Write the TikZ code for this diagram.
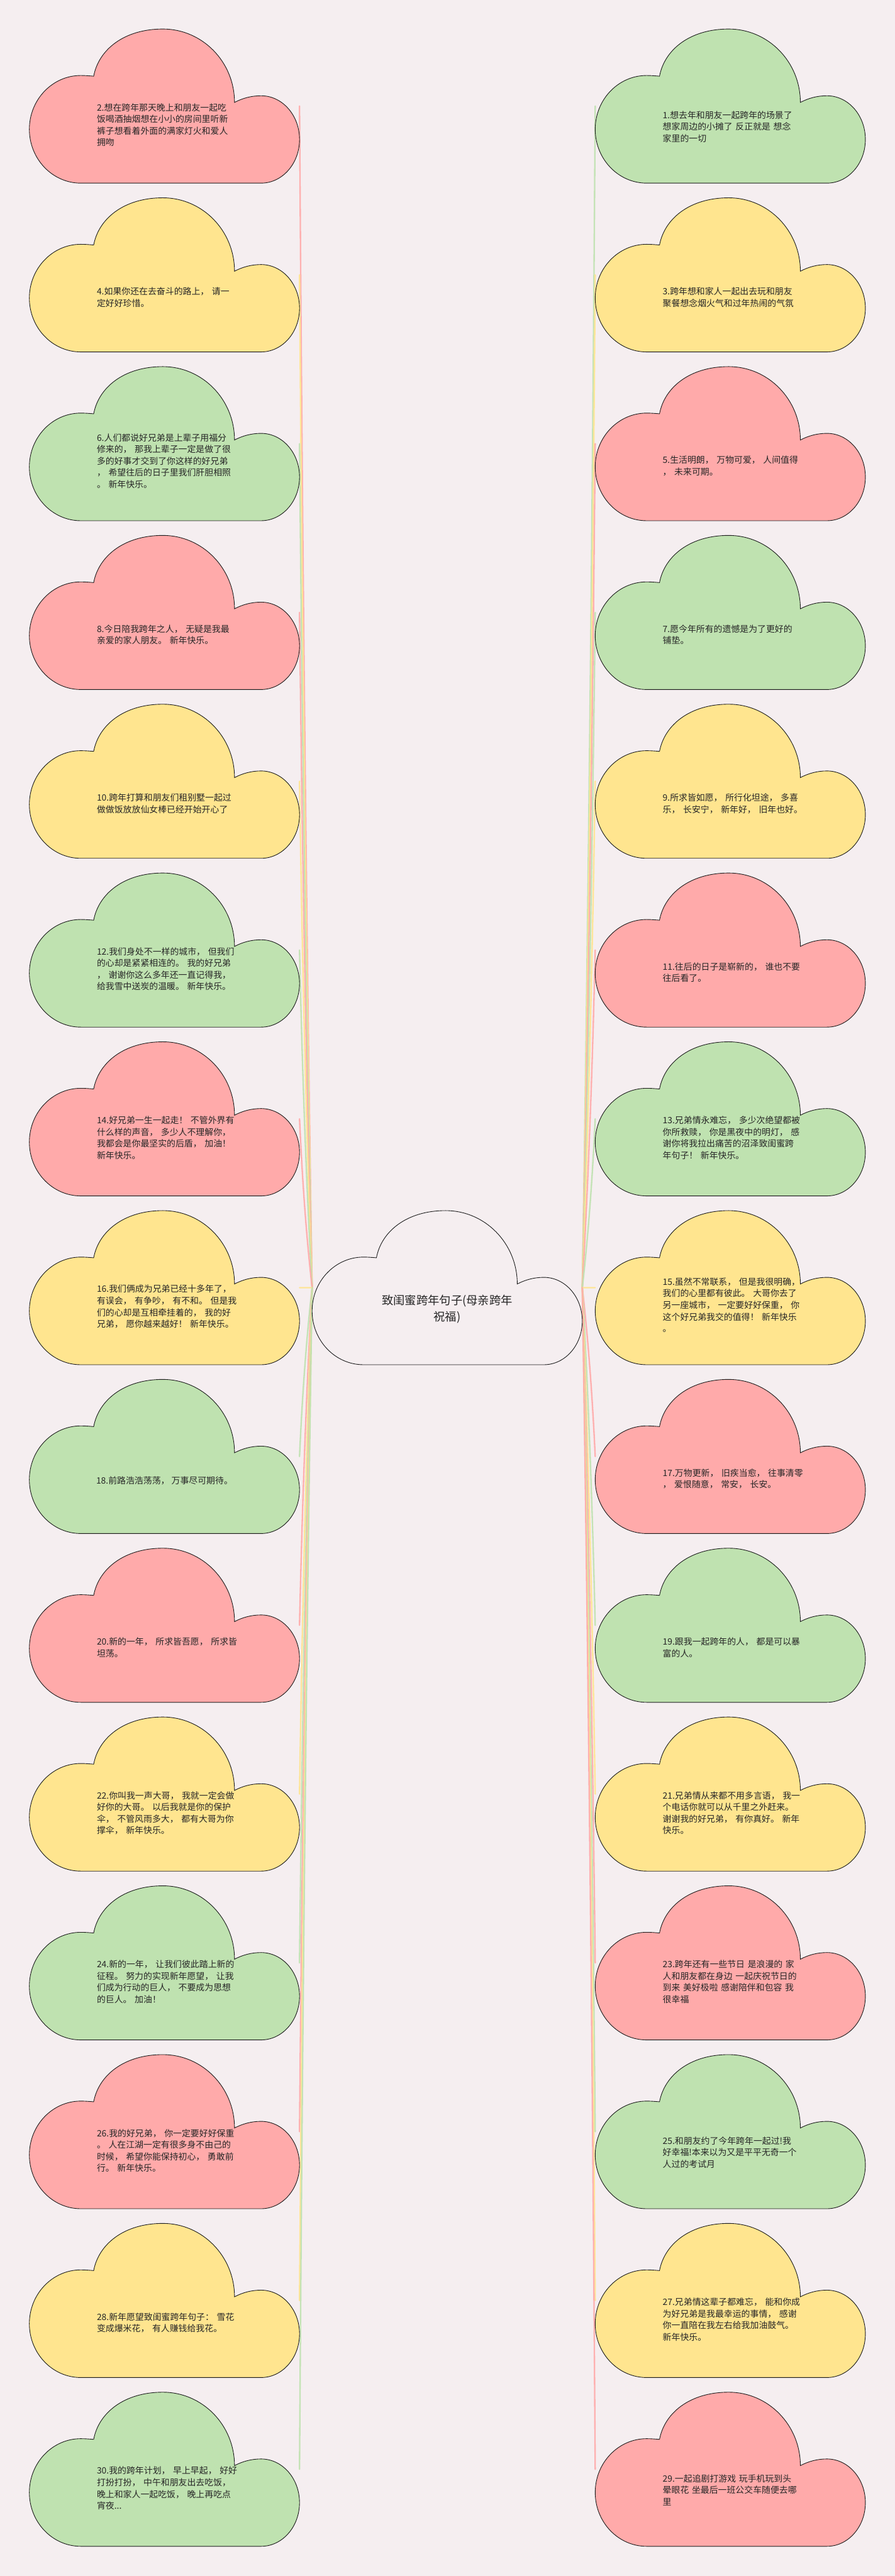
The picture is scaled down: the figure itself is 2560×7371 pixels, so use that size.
\documentclass[tikz,border=0pt]{standalone}
\usepackage{fontspec}
\setmainfont{Noto Sans CJK SC}
\usetikzlibrary{calc}
\definecolor{bgc}{HTML}{F5EEF0}
\definecolor{pinkc}{HTML}{FFAAAA}
\definecolor{yellowc}{HTML}{FFE58F}
\definecolor{greenc}{HTML}{BFE2B0}
\definecolor{txtc}{HTML}{262626}
\pgfdeclarelayer{bglayer}
\pgfdeclarelayer{linelayer}
\pgfsetlayers{bglayer,linelayer,main}
\tikzset{
  cbox/.style={rectangle, minimum width=773pt, minimum height=441pt, inner sep=0pt, outer sep=0pt, draw=none},
  cloudline/.style={draw=black!90, line width=1.6pt},
  pics/cloudshape/.style={code={%
    \path[cloudline, fill=#1] (184,-135) .. controls (198,-60) and (270,0) .. (382,0)
      .. controls (495,0) and (587,-94) .. (587,-210)
      .. controls (610,-198) and (635,-191) .. (663,-191)
      .. controls (724,-191) and (773,-247) .. (773,-316)
      .. controls (773,-385) and (724,-441) .. (663,-441)
      -- (147,-441)
      .. controls (66,-441) and (0,-372) .. (0,-287)
      .. controls (0,-202) and (66,-133) .. (147,-133)
      .. controls (160,-133) and (172,-134) .. (184,-135) -- cycle;}},
  ctext/.style={anchor=west, inner sep=0pt, text width=450pt, align=left, text=txtc, font=\fontsize{25}{33.4}\selectfont},
  ctextone/.style={anchor=center, inner sep=0pt, text=txtc, font=\fontsize{25}{33.4}\selectfont},
  ctitle/.style={anchor=center, inner sep=0pt, align=center, text=txtc, font=\fontsize{33}{46}\selectfont},
  conn/.style={draw=#1, line width=4.2pt, opacity=0.9, line cap=round},
}
% #1 name, #2 left x, #3 top y, #4 colour, #5 number of lines, #6 text
\newcommand\mkcloud[6]{%
  \node[cbox] (#1) at ({#2+386.5},{-(#3+220.5)}) {};
  \pic at (#1.north west) {cloudshape=#4};
  \node[ctext] (#1t) at ({#2+193},{-(#3+294-4.8*#5)}) {#6};
}
\begin{document}
\begin{tikzpicture}[x=1pt,y=1pt]
\begin{pgfonlayer}{bglayer}
\fill[bgc] (0,0) rectangle (2560,-7371);
\end{pgfonlayer}
\useasboundingbox (0,0) rectangle (2560,-7371);

% centre
\node[cbox] (C) at (1279.5,-3684.5) {};
\pic at (C.north west) {cloudshape=bgc};
\node[ctitle] (Ct) at (1279.5,-3746) {致闺蜜跨年句子(母亲跨年\\祝福)};

% left column
\mkcloud{L0}{84}{83}{pinkc}{4}{2.想在跨年那天晚上和朋友一起吃\\饭喝酒抽烟想在小小的房间里听新\\裤子想看着外面的满家灯火和爱人\\拥吻}
\mkcloud{L1}{84}{566}{yellowc}{2}{4.如果你还在去奋斗的路上， 请一\\定好好珍惜。}
\mkcloud{L2}{84}{1049}{greenc}{5}{6.人们都说好兄弟是上辈子用福分\\修来的， 那我上辈子一定是做了很\\多的好事才交到了你这样的好兄弟\\， 希望往后的日子里我们肝胆相照\\。 新年快乐。}
\mkcloud{L3}{84}{1532}{pinkc}{2}{8.今日陪我跨年之人， 无疑是我最\\亲爱的家人朋友。 新年快乐。}
\mkcloud{L4}{84}{2015}{yellowc}{2}{10.跨年打算和朋友们租别墅一起过\\做做饭放放仙女棒已经开始开心了}
\mkcloud{L5}{84}{2498}{greenc}{4}{12.我们身处不一样的城市， 但我们\\的心却是紧紧相连的。 我的好兄弟\\， 谢谢你这么多年还一直记得我，\\给我雪中送炭的温暖。 新年快乐。}
\mkcloud{L6}{84}{2981}{pinkc}{4}{14.好兄弟一生一起走！ 不管外界有\\什么样的声音， 多少人不理解你，\\我都会是你最坚实的后盾， 加油！\\新年快乐。}
\mkcloud{L7}{84}{3464}{yellowc}{4}{16.我们俩成为兄弟已经十多年了，\\有误会， 有争吵， 有不和。 但是我\\们的心却是互相牵挂着的， 我的好\\兄弟， 愿你越来越好！ 新年快乐。}
\node[cbox] (L8) at (470.5,-4167.5) {};
\pic at (L8.north west) {cloudshape=greenc};
\node[ctextone] (L8t) at (470.5,-4236) {18.前路浩浩荡荡， 万事尽可期待。};
\mkcloud{L9}{84}{4430}{pinkc}{2}{20.新的一年， 所求皆吾愿， 所求皆\\坦荡。}
\mkcloud{L10}{84}{4913}{yellowc}{4}{22.你叫我一声大哥， 我就一定会做\\好你的大哥。 以后我就是你的保护\\伞， 不管风雨多大， 都有大哥为你\\撑伞， 新年快乐。}
\mkcloud{L11}{84}{5396}{greenc}{4}{24.新的一年， 让我们彼此踏上新的\\征程。 努力的实现新年愿望， 让我\\们成为行动的巨人， 不要成为思想\\的巨人。 加油！}
\mkcloud{L12}{84}{5879}{pinkc}{4}{26.我的好兄弟， 你一定要好好保重\\。 人在江湖一定有很多身不由己的\\时候， 希望你能保持初心， 勇敢前\\行。 新年快乐。}
\mkcloud{L13}{84}{6362}{yellowc}{2}{28.新年愿望致闺蜜跨年句子： 雪花\\变成爆米花， 有人赚钱给我花。}
\mkcloud{L14}{84}{6845}{greenc}{4}{30.我的跨年计划， 早上早起， 好好\\打扮打扮， 中午和朋友出去吃饭，\\晚上和家人一起吃饭， 晚上再吃点\\宵夜...}

% right column
\mkcloud{R0}{1703}{83}{greenc}{3}{1.想去年和朋友一起跨年的场景了\\想家周边的小摊了 反正就是 想念\\家里的一切}
\mkcloud{R1}{1703}{566}{yellowc}{2}{3.跨年想和家人一起出去玩和朋友\\聚餐想念烟火气和过年热闹的气氛}
\mkcloud{R2}{1703}{1049}{pinkc}{2}{5.生活明朗， 万物可爱， 人间值得\\， 未来可期。}
\mkcloud{R3}{1703}{1532}{greenc}{2}{7.愿今年所有的遗憾是为了更好的\\铺垫。}
\mkcloud{R4}{1703}{2015}{yellowc}{2}{9.所求皆如愿， 所行化坦途， 多喜\\乐， 长安宁， 新年好， 旧年也好。}
\mkcloud{R5}{1703}{2498}{pinkc}{2}{11.往后的日子是崭新的， 谁也不要\\往后看了。}
\mkcloud{R6}{1703}{2981}{greenc}{4}{13.兄弟情永难忘， 多少次绝望都被\\你所救赎， 你是黑夜中的明灯， 感\\谢你将我拉出痛苦的沼泽致闺蜜跨\\年句子！ 新年快乐。}
\mkcloud{R7}{1703}{3464}{yellowc}{5}{15.虽然不常联系， 但是我很明确，\\我们的心里都有彼此。 大哥你去了\\另一座城市， 一定要好好保重， 你\\这个好兄弟我交的值得！ 新年快乐\\。}
\mkcloud{R8}{1703}{3947}{pinkc}{2}{17.万物更新， 旧疾当愈， 往事清零\\， 爱恨随意， 常安， 长安。}
\mkcloud{R9}{1703}{4430}{greenc}{2}{19.跟我一起跨年的人， 都是可以暴\\富的人。}
\mkcloud{R10}{1703}{4913}{yellowc}{4}{21.兄弟情从来都不用多言语， 我一\\个电话你就可以从千里之外赶来。\\谢谢我的好兄弟， 有你真好。 新年\\快乐。}
\mkcloud{R11}{1703}{5396}{pinkc}{4}{23.跨年还有一些节日 是浪漫的 家\\人和朋友都在身边 一起庆祝节日的\\到来 美好极啦 感谢陪伴和包容 我\\很幸福}
\mkcloud{R12}{1703}{5879}{greenc}{3}{25.和朋友约了今年跨年一起过!我\\好幸福!本来以为又是平平无奇一个\\人过的考试月}
\mkcloud{R13}{1703}{6362}{yellowc}{4}{27.兄弟情这辈子都难忘， 能和你成\\为好兄弟是我最幸运的事情， 感谢\\你一直陪在我左右给我加油鼓气。\\新年快乐。}
\mkcloud{R14}{1703}{6845}{pinkc}{3}{29.一起追剧打游戏 玩手机玩到头\\晕眼花 坐最后一班公交车随便去哪\\里}

% connectors
\begin{pgfonlayer}{linelayer}
\foreach \k/\c in {0/pinkc,1/yellowc,2/greenc,3/pinkc,4/yellowc,5/greenc,6/pinkc,7/yellowc,8/greenc,9/pinkc,10/yellowc,11/greenc,12/pinkc,13/yellowc,14/greenc}{
  \draw[conn=\c] (L\k.east) .. controls ($(L\k.east)!0.33!(C.west)+(-4.7,0)$) and ($(L\k.east)!0.67!(C.west)+(-6,0)$) .. (C.west);
}
\foreach \k/\c in {0/greenc,1/yellowc,2/pinkc,3/greenc,4/yellowc,5/pinkc,6/greenc,7/yellowc,8/pinkc,9/greenc,10/yellowc,11/pinkc,12/greenc,13/yellowc,14/pinkc}{
  \draw[conn=\c] (R\k.west) .. controls ($(R\k.west)!0.33!(C.east)+(4.7,0)$) and ($(R\k.west)!0.67!(C.east)+(6,0)$) .. (C.east);
}
\end{pgfonlayer}
\end{tikzpicture}
\end{document}
